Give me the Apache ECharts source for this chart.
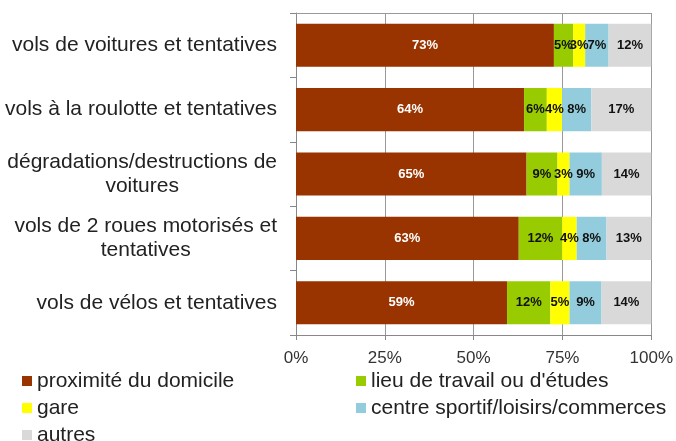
<!DOCTYPE html>
<html>
<head>
<meta charset="utf-8">
<script src="https://cdn.jsdelivr.net/npm/echarts@6/dist/echarts.min.js"></script>
<style>
  html, body { margin: 0; padding: 0; background: #fff; }
  #chart { width: 676px; height: 441px; }
</style>
</head>
<body>
<div id="chart"></div>
<script>
// catégories (de haut en bas)
const categories = [
  'vols de voitures et tentatives',
  'vols à la roulotte et tentatives',
  'dégradations/destructions de\nvoitures',
  'vols de 2 roues motorisés et\ntentatives',
  'vols de vélos et tentatives'
]

// parts en % (les étiquettes sont arrondies)
const domicile = [72.6, 64.2, 64.9, 62.7, 59.4]
const travail  = [5.4, 6.4, 8.7, 12.2, 12.2]
const gare     = [3.4, 4.3, 3.4, 4.1, 5.4]
const centre   = [6.6, 8.2, 9.1, 8.4, 9.0]
const autres   = [12.0, 16.9, 13.9, 12.6, 14.0]

const xTicks = ['0%', '25%', '50%', '75%', '100%']

const seriesNames = [
  'proximité du domicile',
  "lieu de travail ou d'études",
  'gare',
  'centre sportif/loisirs/commerces',
  'autres'
]
const colors = ['#993300', '#99CC00', '#FFFF00', '#93CDDD', '#D9D9D9']
const allData = [domicile, travail, gare, centre, autres]

const chart = echarts.init(document.getElementById('chart'))

const series = allData.map((d, i) => ({
  name: seriesNames[i],
  type: 'bar',
  stack: 'total',
  data: d,
  barCategoryGap: '33%',
  itemStyle: { color: colors[i] },
  label: {
    show: true,
    position: 'inside',
    formatter: p => Math.round(p.value) + '%',
    color: i === 0 ? '#fff' : '#111',
    fontWeight: 'bold',
    fontSize: 13,
    fontFamily: 'Liberation Sans, Arial'
  }
}))

// légende sur deux colonnes
const legendCommon = {
  orient: 'vertical',
  top: 369,
  height: 90,
  padding: 0,
  itemWidth: 10,
  itemHeight: 10,
  itemGap: 3,
  icon: 'rect',
  textStyle: { fontSize: 21, color: '#222', lineHeight: 24 }
}

chart.setOption({
  animation: false,
  textStyle: { fontFamily: 'Liberation Sans, Arial' },
  grid: { left: 296, right: 24, top: 13, bottom: 106 },
  xAxis: [
    {
      type: 'value',
      min: 0,
      max: 100,
      interval: 25,
      axisLine: { show: true, lineStyle: { color: '#888' } },
      axisTick: { show: true, length: 5, lineStyle: { color: '#888' } },
      splitLine: { lineStyle: { color: '#999', width: 1 } },
      axisLabel: {
        color: '#333',
        fontSize: 17,
        margin: 15,
        formatter: v => xTicks[v / 25]
      }
    },
    {
      // trait du cadre en haut
      type: 'value',
      position: 'top',
      min: 0,
      max: 100,
      axisLine: { show: true, lineStyle: { color: '#999' } },
      axisTick: { show: false },
      axisLabel: { show: false },
      splitLine: { show: false }
    }
  ],
  yAxis: {
    type: 'category',
    inverse: true,
    data: categories,
    axisLine: { show: true, lineStyle: { color: '#888' } },
    axisTick: { show: true, length: 6, lineStyle: { color: '#888' } },
    axisLabel: {
      color: '#222',
      fontSize: 21,
      margin: 19,
      formatter: v => v.split('\n').map(l => '{c|' + l + '}').join('\n'),
      rich: { c: { align: 'center', fontSize: 21, color: '#222', lineHeight: 24 } }
    }
  },
  legend: [
    Object.assign({ data: [seriesNames[0], seriesNames[2], seriesNames[4]], left: 22 }, legendCommon),
    Object.assign({ data: [seriesNames[1], seriesNames[3]], left: 356 }, legendCommon)
  ],
  series: series
})
</script>
</body>
</html>
